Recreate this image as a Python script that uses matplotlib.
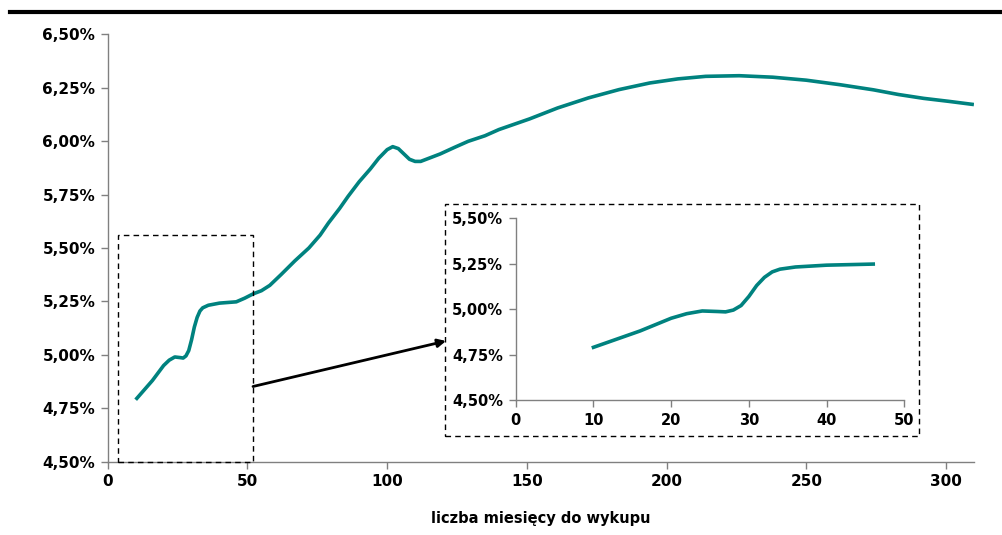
import matplotlib
matplotlib.use("Agg")
import matplotlib.pyplot as plt
from matplotlib.ticker import FuncFormatter
from matplotlib.patches import Rectangle
from matplotlib.lines import Line2D

# months to maturity and yield (%)
months = [10, 12, 14, 16, 18, 20, 22, 24, 26, 27, 28, 29, 30, 31, 32, 33, 34, 36, 38, 40, 43, 46,
          49, 52, 55, 58, 62, 67, 72, 76, 79, 83, 86, 90, 94, 97, 100, 102, 104, 106, 108, 110,
          112, 115, 119, 124, 129, 135, 140, 151, 161, 172, 183, 194, 204, 214, 226, 238, 250,
          262, 274, 283, 292, 301, 310]
yields = [4.79, 4.82, 4.85, 4.88, 4.915, 4.95, 4.975, 4.99, 4.987, 4.985, 4.995, 5.02, 5.07, 5.13,
          5.175, 5.205, 5.22, 5.232, 5.237, 5.242, 5.245, 5.248,
          5.265, 5.285, 5.30, 5.325, 5.375, 5.44, 5.50, 5.56, 5.617, 5.685, 5.741, 5.81, 5.87, 5.92,
          5.96, 5.974, 5.965, 5.94, 5.915, 5.905, 5.905, 5.92, 5.94, 5.97, 5.999, 6.025, 6.054,
          6.104, 6.155, 6.202, 6.241, 6.272, 6.291, 6.303, 6.306, 6.299, 6.285, 6.264, 6.24,
          6.218, 6.2, 6.186, 6.171]

# inset: first part of the curve
n_inset = 22
inset_months = months[:n_inset]
inset_yields = yields[:n_inset]

main_yticks = [4.50, 4.75, 5.00, 5.25, 5.50, 5.75, 6.00, 6.25, 6.50]
main_xticks = [0, 50, 100, 150, 200, 250, 300]
inset_yticks = [4.50, 4.75, 5.00, 5.25, 5.50]
inset_xticks = [0, 10, 20, 30, 40, 50]

teal = "#00827f"
gray = "#808080"


def pct(v, pos):
    return ("%.2f%%" % v).replace(".", ",")


def style(ax, size):
    for s in ["top", "right"]:
        ax.spines[s].set_visible(False)
    for s in ["left", "bottom"]:
        ax.spines[s].set_color(gray)
        ax.spines[s].set_linewidth(1)
    ax.tick_params(colors="black", length=5, width=1, labelsize=size, pad=4)
    ax.tick_params(axis="both", color=gray)
    for lab in ax.get_xticklabels() + ax.get_yticklabels():
        lab.set_fontweight("bold")
    ax.yaxis.set_major_formatter(FuncFormatter(pct))


fig = plt.figure(figsize=(10.03, 5.35), dpi=100)

ax = fig.add_axes([0.1074, 0.137, 0.971 - 0.1074, 0.936 - 0.137])
ax.plot(months, yields, color=teal, lw=2.6, solid_capstyle="butt")
ax.set_xlim(0, 310)
ax.set_ylim(4.5, 6.5)
ax.set_xticks(main_xticks)
ax.set_yticks(main_yticks)
style(ax, 11)
ax.set_xlabel("liczba miesięcy do wykupu", fontsize=10.5, fontweight="bold")
ax.xaxis.set_label_coords(0.5, -0.116)

# dashed box marking the zoomed region
ax.add_patch(Rectangle((3.7, 4.5), 52 - 3.7, 5.563 - 4.5, fill=False, ls=(0, (4, 3)),
                       lw=1, ec="black", clip_on=False, zorder=5))

# inset
ins = fig.add_axes([0.5142, 0.2523, 0.9016 - 0.5142, 0.592 - 0.2523])
ins.plot(inset_months, inset_yields, color=teal, lw=2.6)
ins.set_xlim(0, 50)
ins.set_ylim(4.5, 5.5)
ins.set_xticks(inset_xticks)
ins.set_yticks(inset_yticks)
style(ins, 10.5)
ins.patch.set_alpha(0)

W, H = 1003, 535
fig.add_artist(Rectangle((445 / W, 1 - 436 / H), (919 - 445) / W, (436 - 204) / H,
                         transform=fig.transFigure, fill=False, ls=(0, (4, 3)), lw=1, ec="black"))

# arrow from box to inset
fig.add_artist(plt.Annotation("", xy=(446 / W, 1 - 341 / H), xytext=(253 / W, 1 - 386.5 / H),
                              xycoords="figure fraction", textcoords="figure fraction",
                              arrowprops=dict(arrowstyle="-|>", color="black", lw=2,
                                              mutation_scale=12, shrinkA=0, shrinkB=0)))

# thick rule at top
fig.add_artist(Line2D([10 / W, 1], [1 - 12 / H, 1 - 12 / H], color="black", lw=3,
                      transform=fig.transFigure))

fig.savefig("out.png", dpi=100)
